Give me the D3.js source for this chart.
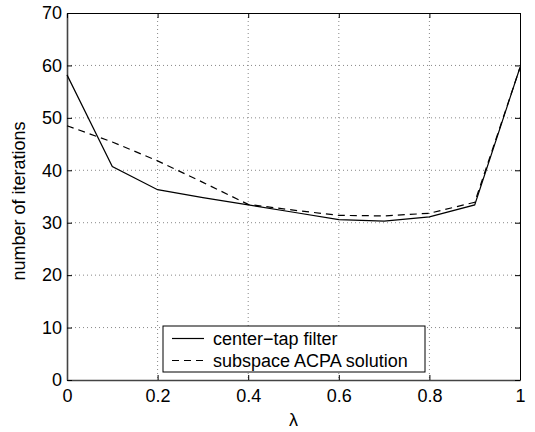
<!DOCTYPE html>
<html><head><meta charset="utf-8">
<script src="https://cdn.jsdelivr.net/npm/d3@7"></script>
<style>body{margin:0;background:#fff}svg{display:block}text{font-family:"Liberation Sans",Arial,sans-serif}</style>
</head><body><svg id="c" width="535" height="432"></svg>
<script>
const lambda = [0, 0.1, 0.2, 0.3, 0.4, 0.5, 0.6, 0.7, 0.8, 0.9, 1.0];
const centerTap = [58.2, 40.7, 36.3, 34.8, 33.4, 32.0, 30.6, 30.3, 31.1, 33.4, 59.6];
const subspace = [48.5, 45.4, 41.8, 37.7, 33.5, 32.4, 31.4, 31.3, 31.8, 33.9, 59.6];
const xTicks = [0, 0.2, 0.4, 0.6, 0.8, 1];
const yTicks = [0, 10, 20, 30, 40, 50, 60, 70];
const seriesNames = ["center\u2212tap filter", "subspace ACPA solution"];

const svg = d3.select("#c");
const m = {l: 67, r: 520, t: 13, b: 380};
const x = d3.scaleLinear().domain([0, 1]).range([m.l, m.r]);
const y = d3.scaleLinear().domain([0, 70]).range([m.b, m.t]);

// grid
const g = svg.append("g");
g.selectAll(".gx").data(xTicks.slice(1, -1)).enter().append("line")
  .attr("x1", d => x(d)).attr("x2", d => x(d)).attr("y1", m.t).attr("y2", m.b)
  .attr("stroke", "#888").attr("stroke-width", 1).attr("stroke-dasharray", "1,3");
g.selectAll(".gy").data(yTicks.slice(1, -1)).enter().append("line")
  .attr("y1", d => y(d)).attr("y2", d => y(d)).attr("x1", m.l).attr("x2", m.r)
  .attr("stroke", "#888").attr("stroke-width", 1).attr("stroke-dasharray", "1,3");

// axes with inward ticks
const fs = 18;
const xb = svg.append("g").attr("transform", `translate(0,${m.b})`)
  .call(d3.axisBottom(x).tickValues(xTicks).tickFormat(d3.format("")).tickSizeInner(-5).tickSizeOuter(0).tickPadding(9));
const yl = svg.append("g").attr("transform", `translate(${m.l},0)`)
  .call(d3.axisLeft(y).tickValues(yTicks).tickSizeInner(-5).tickSizeOuter(0).tickPadding(5));
const xt = svg.append("g").attr("transform", `translate(0,${m.t})`)
  .call(d3.axisTop(x).tickValues(xTicks).tickFormat("").tickSizeInner(-5).tickSizeOuter(0));
const yr = svg.append("g").attr("transform", `translate(${m.r},0)`)
  .call(d3.axisRight(y).tickValues(yTicks).tickFormat("").tickSizeInner(-5).tickSizeOuter(0));
[xb, yl, xt, yr].forEach(a => {
  a.selectAll("text").attr("font-size", fs).attr("fill", "#000").style("font-family", '"Liberation Sans",Arial,sans-serif');
  a.select(".domain").attr("stroke", "#000").attr("stroke-width", 1);
  a.selectAll(".tick line").attr("stroke", "#000");
});
xb.select(".domain").attr("stroke", "#444").attr("stroke-width", 1.6);
yl.select(".domain").attr("stroke", "#444").attr("stroke-width", 1.6);

// lines
const line = d3.line().x((d, i) => x(lambda[i])).y(d => y(d));
svg.append("path").datum(centerTap).attr("d", line).attr("fill", "none")
  .attr("stroke", "#000").attr("stroke-width", 1.2);
svg.append("path").datum(subspace).attr("d", line).attr("fill", "none")
  .attr("stroke", "#000").attr("stroke-width", 1.2).attr("stroke-dasharray", "7,5");

// legend
const lg = svg.append("g");
lg.append("rect").attr("x", 163).attr("y", 326).attr("width", 262).attr("height", 46)
  .attr("fill", "#fff").attr("stroke", "#000").attr("stroke-width", 1);
seriesNames.forEach((n, i) => {
  const yy = 338.5 + i * 22;
  lg.append("line").attr("x1", 172).attr("x2", 204).attr("y1", yy).attr("y2", yy)
    .attr("stroke", "#000").attr("stroke-width", 1.2).attr("stroke-dasharray", i ? "7,5" : null);
  lg.append("text").attr("x", 213).attr("y", yy + 6.5).attr("font-size", fs).text(n);
});

// axis titles
svg.append("text").attr("x", x(0.5)).attr("y", 426).attr("text-anchor", "middle")
  .attr("font-size", fs).text("\u03bb");
svg.append("text").attr("transform", `translate(25,201) rotate(-90)`).attr("text-anchor", "middle")
  .attr("font-size", fs).text("number of iterations");
</script></body></html>
